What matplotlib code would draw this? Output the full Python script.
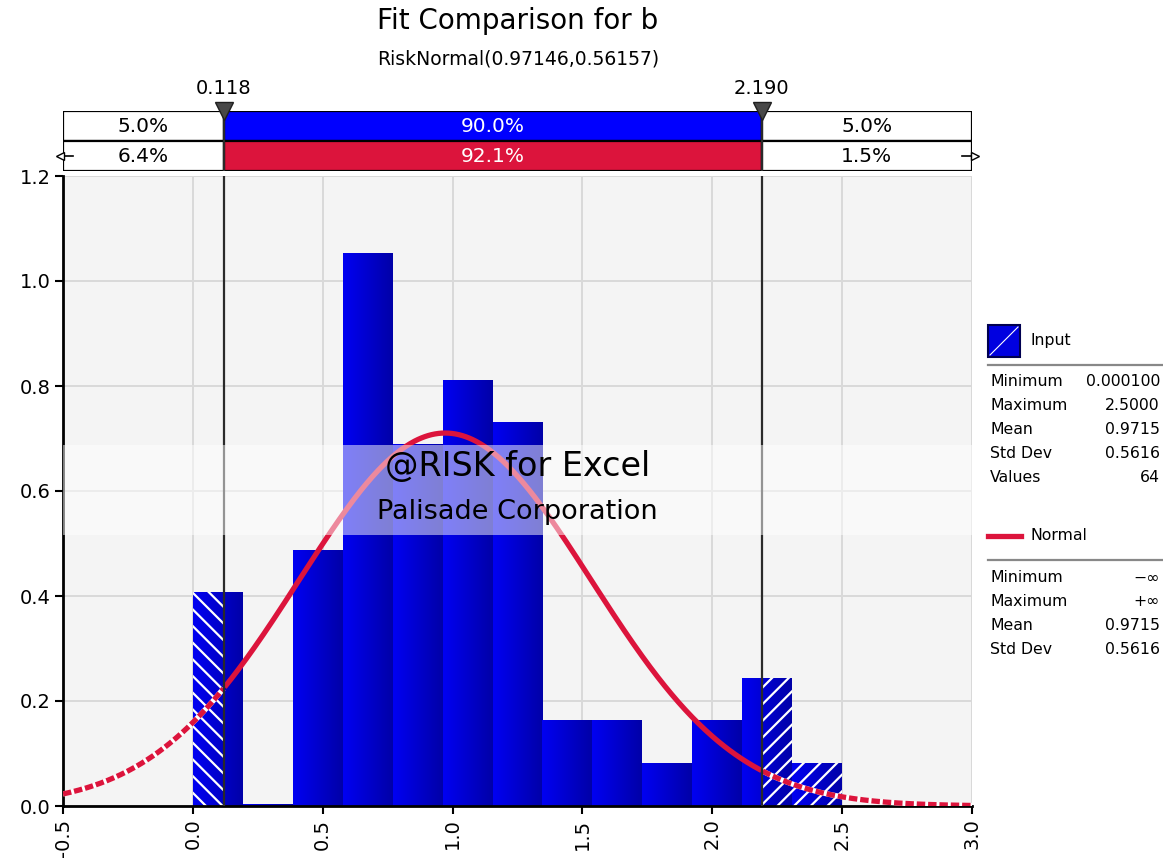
import numpy as np
import matplotlib
matplotlib.use("Agg")
import matplotlib.pyplot as plt
from matplotlib.patches import Rectangle
from matplotlib.lines import Line2D
from matplotlib.colors import LinearSegmentedColormap
import matplotlib.transforms as mtransforms

plt.rcParams['font.family'] = ['DejaVu Sans']
plt.rcParams['axes.unicode_minus'] = False
plt.rcParams['hatch.linewidth'] = 1.6
plt.rcParams['hatch.color'] = 'white'

# ---------------- data ----------------
title = "Fit Comparison for b"
subtitle = "RiskNormal(0.97146,0.56157)"
data_min, data_max, n_bins = 0.0001, 2.5, 13
bar_heights = [0.408, 0.004, 0.488, 1.053, 0.690, 0.812, 0.731,
               0.163, 0.163, 0.081, 0.163, 0.244, 0.081]
fit_mean, fit_sd = 0.97146, 0.56157
markers = [0.118, 2.190]
marker_labels = ["0.118", "2.190"]
input_pcts = ["5.0%", "90.0%", "5.0%"]
fit_pcts = ["6.4%", "92.1%", "1.5%"]
xticks = [-0.5, 0.0, 0.5, 1.0, 1.5, 2.0, 2.5, 3.0]
yticks = [0.0, 0.2, 0.4, 0.6, 0.8, 1.0, 1.2]
input_stat_names = ["Minimum", "Maximum", "Mean", "Std Dev", "Values"]
input_stat_vals = ["0.000100", "2.5000", "0.9715", "0.5616", "64"]
normal_stat_names = ["Minimum", "Maximum", "Mean", "Std Dev"]
normal_stat_vals = ["\u2212\u221e", "+\u221e", "0.9715", "0.5616"]

# ---------------- figure ----------------
W, H = 1163, 864
fig = plt.figure(figsize=(W / 100, H / 100), dpi=100)
fig.patch.set_facecolor('white')

def fx(px):
    return px / W

def fy(py):
    return 1 - py / H

L, R, T, B = 63, 972, 176, 806
ax = fig.add_axes([fx(L), fy(B), fx(R) - fx(L), fy(T) - fy(B)])
ax.set_facecolor('#F4F4F4')
xmin, xmax = -0.5, 3.0
ymin, ymax = 0.0, 1.2

# grid
for xv in xticks:
    ax.axvline(xv, color='#D9D9D9', lw=1.4, zorder=0.5)
for yv in yticks:
    ax.axhline(yv, color='#D9D9D9', lw=1.4, zorder=0.5)

# histogram bars with gradient
edges = np.linspace(data_min, data_max, n_bins + 1)
widths = np.diff(edges)
bars = ax.bar(edges[:-1], bar_heights, width=widths, align='edge',
              color='#0000D0', linewidth=0, zorder=2)
cmap = LinearSegmentedColormap.from_list('bg', ['#0000F2', '#0000A8'])
grad = np.linspace(0, 1, 64).reshape(1, -1)
for rect, x0, w, h in zip(bars, edges[:-1], widths, bar_heights):
    im = ax.imshow(grad, extent=[x0, x0 + w, 0, h], aspect='auto', cmap=cmap,
                   zorder=2.1, interpolation='bilinear')
    im.set_clip_path(rect)

# hatched tails (outside markers)
for rect, x0, w, h in zip(bars, edges[:-1], widths, bar_heights):
    x1 = x0 + w
    if x0 < markers[0]:
        hx1 = min(x1, markers[0])
        ax.add_patch(Rectangle((x0, 0), hx1 - x0, h, facecolor='none',
                               edgecolor='white', hatch='\\\\', lw=0, zorder=2.5))
    if x1 > markers[1]:
        hx0 = max(x0, markers[1])
        ax.add_patch(Rectangle((hx0, 0), x1 - hx0, h, facecolor='none',
                               edgecolor='white', hatch='//', lw=0, zorder=2.5))

# normal curve
xs = np.linspace(xmin, xmax, 800)
pdf = np.exp(-0.5 * ((xs - fit_mean) / fit_sd) ** 2) / (fit_sd * np.sqrt(2 * np.pi))
mid = (xs >= markers[0]) & (xs <= markers[1])
left = xs <= markers[0]
right = xs >= markers[1]
red = '#DC143C'
for m in (left, right):
    ax.plot(xs[m], pdf[m], color='white', lw=3.8, zorder=3, solid_capstyle='butt')
    ax.plot(xs[m], pdf[m], color=red, lw=3.8, zorder=3.1,
            linestyle=(0, (1.6, 0.55)), dash_capstyle='butt')
ax.plot(xs[mid], pdf[mid], color=red, lw=3.8, zorder=3.1, solid_capstyle='butt')

# marker lines
for mk in markers:
    ax.axvline(mk, color='#2A2A2A', lw=1.6, zorder=4)

# watermark band
ax.add_patch(Rectangle((0, (B - 535) / (B - T)), 1, 90 / (B - T),
                       transform=ax.transAxes, facecolor='white', alpha=0.5,
                       lw=0, zorder=6))
ax.text(0.5, (B - 467) / (B - T), "@RISK for Excel", transform=ax.transAxes,
        ha='center', va='center', fontsize=24, color='black', zorder=7)
ax.text(0.5, (B - 512) / (B - T), "Palisade Corporation", transform=ax.transAxes,
        ha='center', va='center', fontsize=19.5, color='black', zorder=7)

ax.set_xlim(xmin, xmax)
ax.set_ylim(ymin, ymax)
ax.set_xticks(xticks)
ax.set_xticklabels([f"{v:.1f}" for v in xticks], rotation=90, fontsize=14)
ax.set_yticks(yticks)
ax.set_yticklabels([f"{v:.1f}" for v in yticks], fontsize=14)
ax.tick_params(direction='out', length=6, width=1.5, color='black', pad=3)
for s in ('top', 'right'):
    ax.spines[s].set_visible(False)
for s in ('left', 'bottom'):
    ax.spines[s].set_linewidth(2)
    ax.spines[s].set_color('black')

# ---------------- top percentile bar ----------------
axt = fig.add_axes([fx(L), fy(171), fx(R) - fx(L), fy(111) - fy(171)])
axt.set_xlim(xmin, xmax)
axt.set_ylim(0, 2)
seg_l = [xmin, markers[0], markers[1]]
seg_w = [markers[0] - xmin, markers[1] - markers[0], xmax - markers[1]]
axt.barh([1.5] * 3, seg_w, left=seg_l, height=1,
         color=['white', '#0000FF', 'white'], edgecolor='black', lw=1.6)
axt.barh([0.5] * 3, seg_w, left=seg_l, height=1,
         color=['white', red, 'white'], edgecolor='black', lw=1.6)
for l, w, t, c in zip(seg_l, seg_w, input_pcts, ['black', 'white', 'black']):
    axt.text(l + w / 2, 1.5, t, ha='center', va='center', fontsize=14.5, color=c)
for l, w, t, c in zip(seg_l, seg_w, fit_pcts, ['black', 'white', 'black']):
    axt.text(l + w / 2, 0.5, t, ha='center', va='center', fontsize=14.5, color=c)
for mk in markers:
    axt.axvline(mk, color='#2A2A2A', lw=1.6, zorder=4)
axt.plot(markers, [2, 2], linestyle='none', marker='v', markersize=13,
         markerfacecolor='#484848', markeredgecolor='#202020', clip_on=False, zorder=5)
blend = mtransforms.blended_transform_factory(axt.transData, fig.transFigure)
for mk, lab in zip(markers, marker_labels):
    fig.text(mk, fy(88), lab, transform=blend, ha='center', va='center', fontsize=14)
# end arrows
axt.plot([xmin, xmin + 0.04], [0.5, 0.5], color='black', lw=1.2, clip_on=False)
axt.plot([xmin - 0.012], [0.5], marker='<', markersize=6, mfc='white',
         mec='black', mew=1, clip_on=False)
axt.plot([xmax - 0.04, xmax], [0.5, 0.5], color='black', lw=1.2, clip_on=False)
axt.plot([xmax + 0.012], [0.5], marker='>', markersize=6, mfc='white',
         mec='black', mew=1, clip_on=False)
axt.axis('off')

# ---------------- titles ----------------
fig.text(fx(518), fy(21), title, ha='center', va='center', fontsize=20)
fig.text(fx(518), fy(59), subtitle, ha='center', va='center', fontsize=13.5)

# ---------------- legend ----------------
fig.add_artist(Rectangle((fx(988), fy(357)), fx(32), 32 / H, transform=fig.transFigure,
                         facecolor='#0000E0', edgecolor='#000050', lw=1.5))
fig.add_artist(Line2D([fx(990), fx(1018)], [fy(355), fy(327)], transform=fig.transFigure,
                      color='white', lw=0.8))
fig.text(fx(1031), fy(340), "Input", ha='left', va='center', fontsize=11.3)
fig.add_artist(Line2D([fx(988), fx(1163)], [fy(365), fy(365)], transform=fig.transFigure,
                      color='#888888', lw=1.6))
for i, (n, v) in enumerate(zip(input_stat_names, input_stat_vals)):
    y = fy(382 + 24 * i)
    fig.text(fx(990), y, n, ha='left', va='center', fontsize=11.3)
    fig.text(fx(1160), y, v, ha='right', va='center', fontsize=11.3)

fig.add_artist(Line2D([fx(988), fx(1021)], [fy(536), fy(536)], transform=fig.transFigure,
                      color=red, lw=3.8))
fig.text(fx(1031), fy(536), "Normal", ha='left', va='center', fontsize=11.3)
fig.add_artist(Line2D([fx(988), fx(1163)], [fy(560), fy(560)], transform=fig.transFigure,
                      color='#888888', lw=1.6))
for i, (n, v) in enumerate(zip(normal_stat_names, normal_stat_vals)):
    y = fy(578 + 24 * i)
    fig.text(fx(990), y, n, ha='left', va='center', fontsize=11.3)
    fig.text(fx(1160), y, v, ha='right', va='center', fontsize=11.3)

fig.savefig("out.png", dpi=100)
